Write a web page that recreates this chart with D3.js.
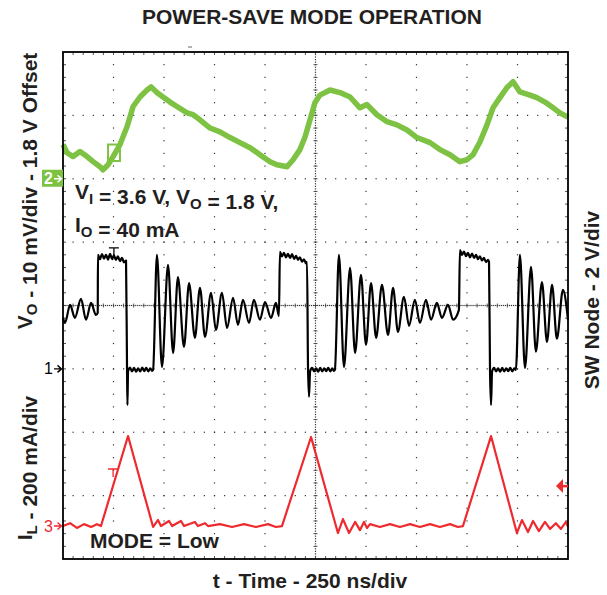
<!DOCTYPE html>
<html><head><meta charset="utf-8">
<script src="https://cdn.jsdelivr.net/npm/d3@7"></script>
<style>
body{margin:0;background:#fff}
svg{display:block}
text{font-family:"Liberation Sans",Arial,Helvetica,sans-serif;fill:#231f20}
</style>
</head><body>
<svg id="c" width="607" height="595"></svg>
<script>
// ---------------- DATA ----------------
// Time axis: 250 ns/div, 10 divisions
const timeDivs = 10, nsPerDiv = 250;
// Channel 2: output voltage ripple (mV, 1.8 V offset), 10 mV/div
const voT  = [0,20,50,84,119,149,183,198,223,248,282,317,347,381,416,436,465,495,530,564,614,644,678,728,777,827,876,926,975,1025,1059,1109,1139,1173,1198,1223,1247,1272,1322,1371,1421,1470,1505,1554,1604,1653,1703,1752,1817,1866,1916,1965,2000,2030,2064,2099,2129,2163,2198,2228,2262,2312,2346,2386,2426,2460,2495,2500];
const voMv = [5.4,4.1,3.5,4.3,3.5,2.7,1.9,1.4,2.2,3.5,5.4,8.2,11.4,12.9,14.0,14.5,13.6,12.9,12.1,11.4,10.4,10.1,9.3,8.0,7.4,6.5,5.7,4.9,3.8,2.7,2.2,1.9,3.0,4.6,6.6,9.3,12.0,13.2,14.0,13.6,12.9,11.2,11.7,10.1,9.0,8.5,7.7,6.5,5.7,4.6,3.8,2.7,3.0,3.8,5.8,8.5,11.2,12.8,14.4,15.3,13.7,13.2,12.8,12.1,11.2,10.4,9.8,9.7];
// Channel 1: switch node voltage (V), 2 V/div  [t ns, V]
const swNode = [[0,1.61],[10,1.45],[35,2.02],[59,1.61],[89,2.21],[114,1.55],[139,2.08],[163,1.70],[172,1.77],
 [173,3.60],[183,3.46],[193,3.62],[203,3.48],[213,3.60],[223,3.45],[233,3.63],[243,3.46],[252,3.58],[262,3.44],[272,3.55],[282,3.40],[292,3.50],[302,3.36],[312,3.42],
 [317,-0.03],[319,-1.14],[322,-0.09],[332,0.04],[342,-0.08],[352,0.03],[362,-0.09],[372,0.02],[382,-0.08],[392,0.04],[402,-0.07],[412,0.03],[422,-0.08],[432,0.02],[441,-0.06],[446,-0.03],
 [465,3.60],[490,0.06],[520,3.28],[545,0.50],[569,2.90],[599,0.69],[624,2.71],[653,0.98],[678,2.56],[703,1.01],[733,2.40],[757,1.23],[787,2.40],[812,1.29],[842,2.24],[866,1.39],[891,2.18],[921,1.45],[945,2.18],[975,1.55],[1000,2.11],[1030,1.61],[1054,2.08],[1069,1.67],
 [1074,3.69],[1084,3.55],[1094,3.66],[1104,3.52],[1114,3.63],[1124,3.50],[1134,3.62],[1144,3.47],[1154,3.57],[1163,3.44],[1173,3.52],[1183,3.38],[1193,3.46],[1203,3.33],[1208,3.38],
 [1213,0.03],[1218,-0.88],[1223,-0.09],[1233,0.03],[1243,-0.08],[1253,0.02],[1263,-0.09],[1273,0.03],[1283,-0.08],[1293,0.02],[1303,-0.07],[1313,0.03],[1323,-0.08],[1333,0.02],[1341,-0.06],[1346,-0.03],
 [1366,3.60],[1391,0.06],[1421,3.19],[1446,0.50],[1475,2.97],[1500,0.76],[1525,2.71],[1550,0.98],[1579,2.65],[1609,1.07],[1634,2.56],[1658,1.17],[1688,2.27],[1713,1.36],[1742,2.18],[1767,1.45],[1797,2.18],[1822,1.55],[1851,2.08],[1876,1.61],[1906,2.02],[1931,1.55],[1960,1.86],
 [1965,3.75],[1975,3.60],[1985,3.70],[1995,3.56],[2005,3.66],[2015,3.52],[2025,3.64],[2035,3.50],[2045,3.60],[2054,3.46],[2064,3.55],[2074,3.42],[2084,3.50],[2094,3.37],[2104,3.44],[2109,3.38],
 [2114,-0.09],[2119,-1.14],[2124,-0.09],[2134,0.03],[2144,-0.08],[2154,0.02],[2164,-0.09],[2174,0.03],[2184,-0.08],[2194,0.02],[2204,-0.07],[2214,0.03],[2224,-0.08],[2234,0.02],[2242,-0.03],
 [2262,3.60],[2287,0.03],[2317,3.22],[2341,0.54],[2371,2.74],[2396,0.85],[2421,2.65],[2445,0.95],[2475,2.49],[2500,1.55]];
// Channel 3: inductor current (mA), 200 mA/div  [t ns, mA]
const ilMa = [[0,0],[35,9],[69,-6],[104,6],[139,-3],[168,6],[188,0],[322,284],[446,-3],[470,19],[485,0],[525,16],[540,0],[584,16],[599,0],[653,13],[668,0],[703,9],[718,0],[777,6],[837,-3],[896,6],[955,-3],[1015,6],[1054,-3],[1084,0],[1228,281],[1361,-22],[1386,22],[1416,-22],[1446,13],[1470,-13],[1490,13],[1505,-6],[1520,6],[1569,-3],[1619,6],[1668,-3],[1718,6],[1767,-3],[1817,6],[1866,-3],[1916,6],[1955,-3],[1980,0],[2119,284],[2247,-22],[2272,19],[2302,-19],[2327,16],[2356,-16],[2386,13],[2411,-9],[2440,9],[2465,-9],[2490,13],[2500,-3]];
// channel reference levels (divisions from bottom of 8)
const chRefDiv = {vo:6, sw:3, il:0.52};
const chScale = {vo:10, sw:2, il:200}; // units per division
const chLabels = ["2","1","3"];
const trigLevelMa = 126, trigPosNs = 629;
const markT = {sw:[252,3.82], il:[248,180], vo:[223,282,2.8,5.4]};

// ---------------- LAYOUT ----------------
const L=63,R=568,T=52,B=559;
const svg=d3.select("#c");
const x=d3.scaleLinear().domain([0,timeDivs*nsPerDiv]).range([L,R]);
const xDiv=d3.scaleLinear().domain([0,10]).range([L,R]);
const yDiv=d3.scaleLinear().domain([0,8]).range([B,T]);
const yVo=v=>yDiv(chRefDiv.vo+v/chScale.vo);
const ySw=v=>yDiv(chRefDiv.sw+v/chScale.sw);
const yIl=v=>yDiv(chRefDiv.il+v/chScale.il);
const RED="#ee2a2e", GREEN="#7dc242";

// graticule dots
const dots=[];
for(let i=1;i<10;i++){ if(i===5) continue; for(let j=1;j<40;j++) dots.push([xDiv(i),yDiv(j/5)]); }
for(let k=1;k<8;k++){ if(k===4) continue; for(let i=1;i<50;i++) dots.push([xDiv(i/5),yDiv(k)]); }
for(let j=1;j<200;j++) dots.push([xDiv(5),yDiv(j/25)]);
for(let i=1;i<250;i++) dots.push([xDiv(i/25),yDiv(4)]);
const g=svg.append("g");
g.selectAll("rect.d").data(dots).join("rect").attr("class","d")
 .attr("x",d=>d[0]-0.6).attr("y",d=>d[1]-0.6).attr("width",1.2).attr("height",1.2).attr("fill","#333");
const cticks=[];
for(let j=1;j<40;j++) cticks.push([xDiv(5)-2,yDiv(j/5),xDiv(5)+2,yDiv(j/5)]);
for(let i=1;i<50;i++) cticks.push([xDiv(i/5),yDiv(4)-2,xDiv(i/5),yDiv(4)+2]);
for(let i=1;i<50;i++){ cticks.push([xDiv(i/5),T,xDiv(i/5),T+3]); cticks.push([xDiv(i/5),B,xDiv(i/5),B-3]); }
for(let j=1;j<40;j++){ cticks.push([L,yDiv(j/5),L+3,yDiv(j/5)]); cticks.push([R,yDiv(j/5),R-3,yDiv(j/5)]); }
g.selectAll("line.t").data(cticks).join("line").attr("class","t")
 .attr("x1",d=>d[0]).attr("y1",d=>d[1]).attr("x2",d=>d[2]).attr("y2",d=>d[3])
 .attr("stroke","#444").attr("stroke-width",0.9);

// traces
const lineVo=d3.line().x((d,i)=>x(voT[i])).y(d=>yVo(d));
svg.append("path").attr("d",lineVo(voMv)).attr("fill","none").attr("stroke",GREEN)
 .attr("stroke-width",5.5).attr("stroke-linejoin","round").attr("stroke-linecap","butt");
svg.append("rect").attr("x",x(markT.vo[0])).attr("y",yVo(markT.vo[3])).attr("width",x(markT.vo[1])-x(markT.vo[0]))
 .attr("height",yVo(markT.vo[2])-yVo(markT.vo[3])).attr("fill","none").attr("stroke",GREEN).attr("stroke-width",2);

const lineSw=d3.line().x(d=>x(d[0])).y(d=>ySw(d[1])).curve(d3.curveMonotoneX);
svg.append("path").attr("d",lineSw(swNode)).attr("fill","none").attr("stroke","#000")
 .attr("stroke-width",2.2).attr("stroke-linejoin","round");

const lineIl=d3.line().x(d=>x(d[0])).y(d=>yIl(d[1]));
svg.append("path").attr("d",lineIl(ilMa)).attr("fill","none").attr("stroke",RED)
 .attr("stroke-width",2.2).attr("stroke-linejoin","round");

const tm=(cx,cy,col)=>{ svg.append("path").attr("d",`M${cx-5},${cy}H${cx+5}M${cx},${cy}V${cy+8}`).attr("stroke",col).attr("stroke-width",1.3).attr("fill","none"); };
tm(x(markT.sw[0]),ySw(markT.sw[1]),"#000");
tm(x(markT.il[0]),yIl(markT.il[1]),RED);

// frame
svg.append("rect").attr("x",L).attr("y",T).attr("width",R-L).attr("height",B-T).attr("fill","none").attr("stroke","#000").attr("stroke-width",1.8);

// trigger position mark
svg.append("line").attr("x1",x(trigPosNs)-2).attr("x2",x(trigPosNs)+2).attr("y1",T-5).attr("y2",T-5).attr("stroke","#666").attr("stroke-width",1);
// trigger level arrow
const ty=yIl(trigLevelMa);
svg.append("path").attr("d",`M${R-12},${ty}L${R-5},${ty-7}L${R-5},${ty+7}Z`).attr("fill",RED);
svg.append("line").attr("x1",R-6).attr("x2",R).attr("y1",ty).attr("y2",ty).attr("stroke",RED).attr("stroke-width",2.5);

// channel reference markers
const refs=[{y:yVo(0),c:"#fff",lab:chLabels[0],box:true},{y:ySw(0),c:"#000",lab:chLabels[1]},{y:yIl(0),c:RED,lab:chLabels[2]}];
refs.forEach(r=>{
  if(r.box) svg.append("rect").attr("x",42).attr("y",r.y-9).attr("width",L-42).attr("height",17).attr("fill",GREEN);
  svg.append("text").attr("x",44).attr("y",r.y+5.5).attr("font-size",16).attr("font-weight",r.box?"bold":"normal").style("fill",r.c).text(r.lab);
  svg.append("path").attr("d",`M54,${r.y}H61M57.5,${r.y-3.5}L61.5,${r.y}L57.5,${r.y+3.5}`).attr("fill","none").attr("stroke",r.c).attr("stroke-width",1.4);
});

// texts
const bold=(sel)=>sel.attr("font-weight","bold").attr("font-size",21);
bold(svg.append("text").attr("x",312).attr("y",24).attr("text-anchor","middle")).text("POWER-SAVE MODE OPERATION");
bold(svg.append("text").attr("x",310).attr("y",588).attr("text-anchor","middle")).text("t - Time - 250 ns/div");

function sub(t,parts,size){
  parts.forEach(p=>{
    if(p.s){ t.append("tspan").attr("font-size",size||15).attr("dy",5).text(p.s); t.append("tspan").attr("dy",-5).text(""); }
    else t.append("tspan").text(p.t);
  });
}
let a1=bold(svg.append("text").attr("x",75).attr("y",199));
sub(a1,[{t:"V"},{s:"I"},{t:" = 3.6 V, V"},{s:"O"},{t:" = 1.8 V,"}]);
let a2=bold(svg.append("text").attr("x",75).attr("y",232));
sub(a2,[{t:"I"},{s:"O"},{t:" = 40 mA"}]);
bold(svg.append("text").attr("x",90).attr("y",548)).text("MODE = Low");

let yl1=bold(svg.append("text").attr("transform","translate(32,191) rotate(-90)").attr("text-anchor","middle"));
sub(yl1,[{t:"V"},{s:"O"},{t:" - 10 mV/div - 1.8 V Offset"}]);
let yl2=bold(svg.append("text").attr("transform","translate(32,468) rotate(-90)").attr("text-anchor","middle"));
sub(yl2,[{t:"I"},{s:"L"},{t:" - 200 mA/div"}]);
bold(svg.append("text").attr("transform","translate(599,300) rotate(-90)").attr("text-anchor","middle")).text("SW Node - 2 V/div");
</script>
</body></html>
